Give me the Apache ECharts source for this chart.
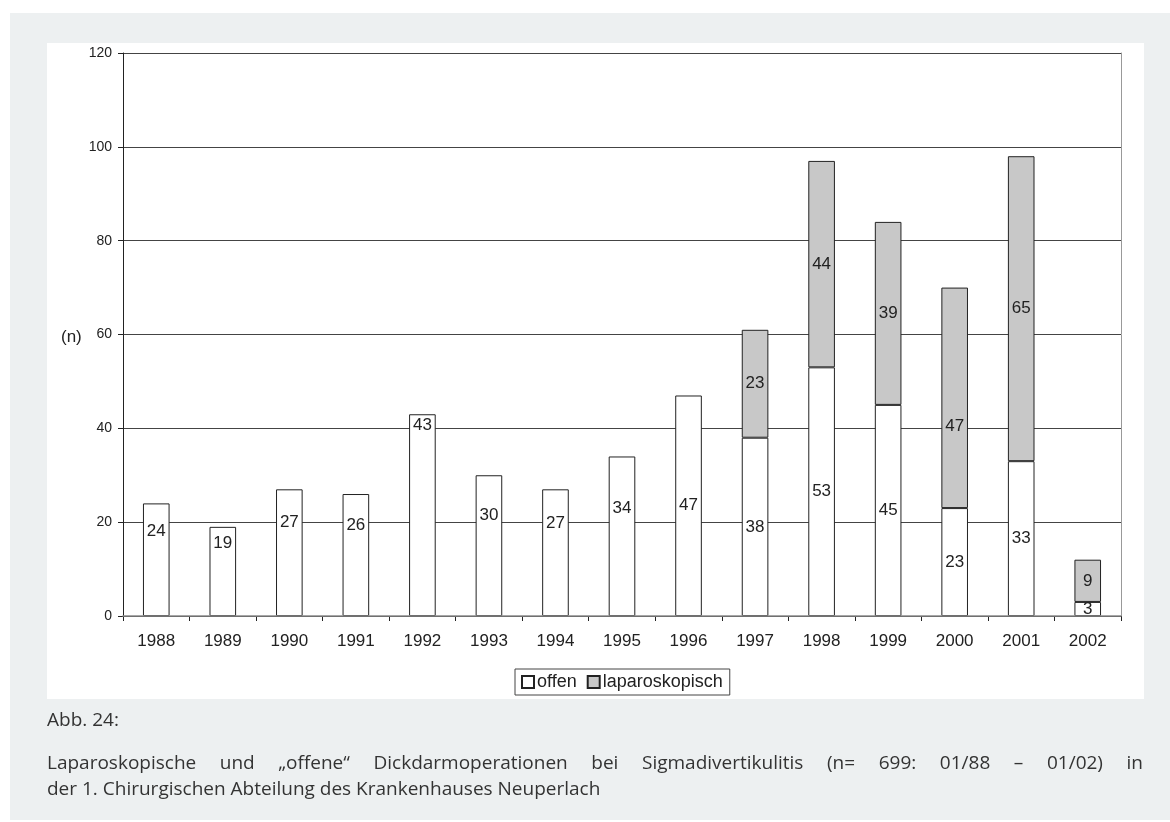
<!DOCTYPE html>
<html>
<head>
<meta charset="utf-8">
<script src="https://cdn.jsdelivr.net/npm/echarts@6/dist/echarts.min.js"></script>
<style>
html,body{margin:0;padding:0;background:#fff;}
#c{width:1170px;height:822px;}
</style>
</head>
<body>
<div id="c"></div>
<script>
const years = ['1988','1989','1990','1991','1992','1993','1994','1995','1996','1997','1998','1999','2000','2001','2002'];
const offen = [24,19,27,26,43,30,27,34,47,38,53,45,23,33,3];
const laparoskopisch = [null,null,null,null,null,null,null,null,null,23,44,39,47,65,9];
const yTicks = [0,20,40,60,80,100,120];
const seriesNames = ['offen','laparoskopisch'];
const captionHead = 'Abb. 24:';
const captionLine1 = 'Laparoskopische und \u201Eoffene\u201C Dickdarmoperationen bei Sigmadivertikulitis (n= 699:  01/88  \u2013  01/02)  in';
const captionLine2 = 'der 1. Chirurgischen Abteilung des Krankenhauses Neuperlach';

// label placement tweaks as in the original (manually moved labels), in px
const offenLabelShift = [-28,-28,-30,-30,-90,-30,-29,-28,0,0,0,0,0,0,0];
const lapLabelShift = [0,0,0,0,0,0,0,0,0,0,0,0,28,0,0];

const capFont = '19px "Open Sans"';
const chart = echarts.init(document.getElementById('c'));

function justified(text, x0, x1, y) {
  const cv = document.createElement('canvas').getContext('2d');
  cv.font = capFont;
  const words = text.split(/\s+/);
  const widths = words.map(w => cv.measureText(w).width);
  const total = widths.reduce((a,b)=>a+b,0);
  const gap = (x1 - x0 - total) / (words.length - 1);
  let x = x0;
  return words.map((w,i) => {
    const el = {type:'text', x:x, y:y, z:10, style:{text:w, font:capFont, fill:'#333', verticalAlign:'middle'}};
    x += widths[i] + gap;
    return el;
  });
}

const graphics = [
  {type:'rect', shape:{x:10,y:13,width:1160,height:807}, style:{fill:'#edf0f1'}, z:-10, silent:true},
  {type:'rect', shape:{x:47,y:43,width:1097,height:656}, style:{fill:'#ffffff'}, z:-9, silent:true},
  {type:'text', x:61, y:337, style:{text:'(n)', font:'17px "Liberation Sans"', fill:'#222', verticalAlign:'middle'}},
  {type:'text', x:47, y:721, style:{text:captionHead, font:capFont, fill:'#333', verticalAlign:'middle'}},
  ...justified(captionLine1, 47, 1143, 764),
  {type:'text', x:47, y:790, style:{text:captionLine2, font:capFont, fill:'#333', verticalAlign:'middle'}}
];

const lblStyle = {show:true, position:'inside', color:'#222', fontFamily:'Liberation Sans', fontSize:17};

function withShift(vals, shifts) {
  return vals.map((v,i) => v == null ? null : (shifts[i] ? {value:v, label:{offset:[0,shifts[i]]}} : v));
}

chart.setOption({
  animation:false,
  backgroundColor:'transparent',
  graphic: graphics,
  grid:{left:123, right:49, top:53, bottom:206},
  legend:{
    data:seriesNames, top:669, left:515,
    itemWidth:12, itemHeight:12, itemGap:10,
    icon:'rect',
    borderColor:'#444', borderWidth:1, padding:[4,7,4,6],
    backgroundColor:'#fff',
    textStyle:{fontFamily:'Liberation Sans', fontSize:18, lineHeight:18, color:'#222', padding:[0,0,0,-2]}
  },
  xAxis:[{
    type:'category', data:years, boundaryGap:true,
    axisLine:{lineStyle:{color:'#222', width:1}},
    axisTick:{show:true, interval:0, length:5, lineStyle:{color:'#222'}},
    axisLabel:{interval:0, margin:17, color:'#222', fontFamily:'Liberation Sans', fontSize:17}
  },{
    type:'category', data:years, position:'top', z:3,
    axisLine:{show:true, lineStyle:{color:'#8a8a8a', width:1.5}}, axisTick:{show:false}, axisLabel:{show:false}
  }],
  yAxis:[{
    type:'value', min:0, max:120, interval:20,
    axisLine:{show:true, lineStyle:{color:'#222'}},
    axisTick:{show:true, length:5, lineStyle:{color:'#222'}},
    axisLabel:{margin:11, color:'#222', fontFamily:'Liberation Sans', fontSize:14,
      formatter: v => yTicks.includes(v) ? String(v) : ''},
    splitLine:{show:true, lineStyle:{color:'#444', width:1}}
  },{
    type:'value', min:0, max:120, interval:20, position:'right',
    axisLine:{show:true, lineStyle:{color:'#999'}}, axisTick:{show:false}, axisLabel:{show:false}, splitLine:{show:false}
  }],
  series:[
    {name:seriesNames[0], type:'bar', stack:'a', data:withShift(offen, offenLabelShift), barWidth:'40%',
     itemStyle:{color:'#ffffff', borderColor:'#222', borderWidth:1}, label:lblStyle},
    {name:seriesNames[1], type:'bar', stack:'a', data:withShift(laparoskopisch, lapLabelShift), barWidth:'40%',
     itemStyle:{color:'#c8c8c8', borderColor:'#222', borderWidth:1}, label:lblStyle}
  ]
});
</script>
</body>
</html>
